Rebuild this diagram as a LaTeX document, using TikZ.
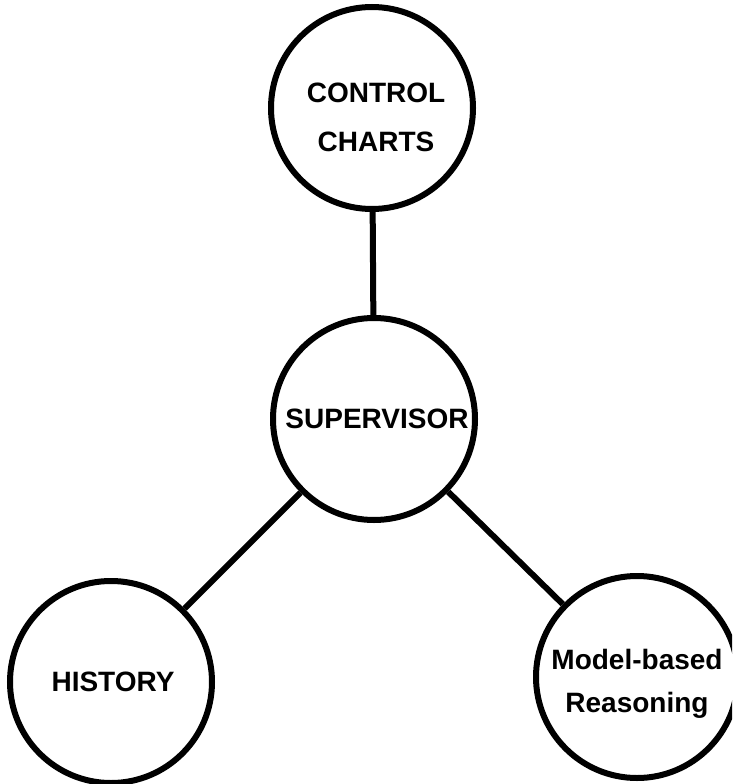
\documentclass[tikz,border=0pt]{standalone}
\usepackage{fontspec}
\setmainfont{Liberation Sans}
\begin{document}
\begin{tikzpicture}[x=1pt,y=-1pt,
  circ/.style={draw=black,line width=6pt,circle,minimum size=202pt,inner sep=0pt},
  txt/.style={font=\bfseries\fontsize{28}{28}\selectfont,align=center,inner sep=0pt},
  conn/.style={draw=black,line width=6pt}]
\useasboundingbox (0,0) rectangle (732,784);
\clip (0,0) rectangle (732,784);
\node[circ] (cc) at (372,108) {};
\node[circ] (sv) at (374,419) {};
\node[circ] (hi) at (111,682) {};
\node[circ] (mb) at (637,677) {};
\node[txt,font=\bfseries\fontsize{28}{49}\selectfont] (tcc) at (376,117) {CONTROL\\CHARTS};
\node[txt] (tsv) at (377,419) {SUPERVISOR};
\node[txt] (thi) at (113,682) {HISTORY};
\node[txt,font=\bfseries\fontsize{28}{43}\selectfont] (tmb) at (637,684) {Model-based\\Reasoning};
\draw[conn] (cc) -- (sv);
\draw[conn] (sv) -- (hi);
\draw[conn] (sv) -- (mb);
\end{tikzpicture}
\end{document}
